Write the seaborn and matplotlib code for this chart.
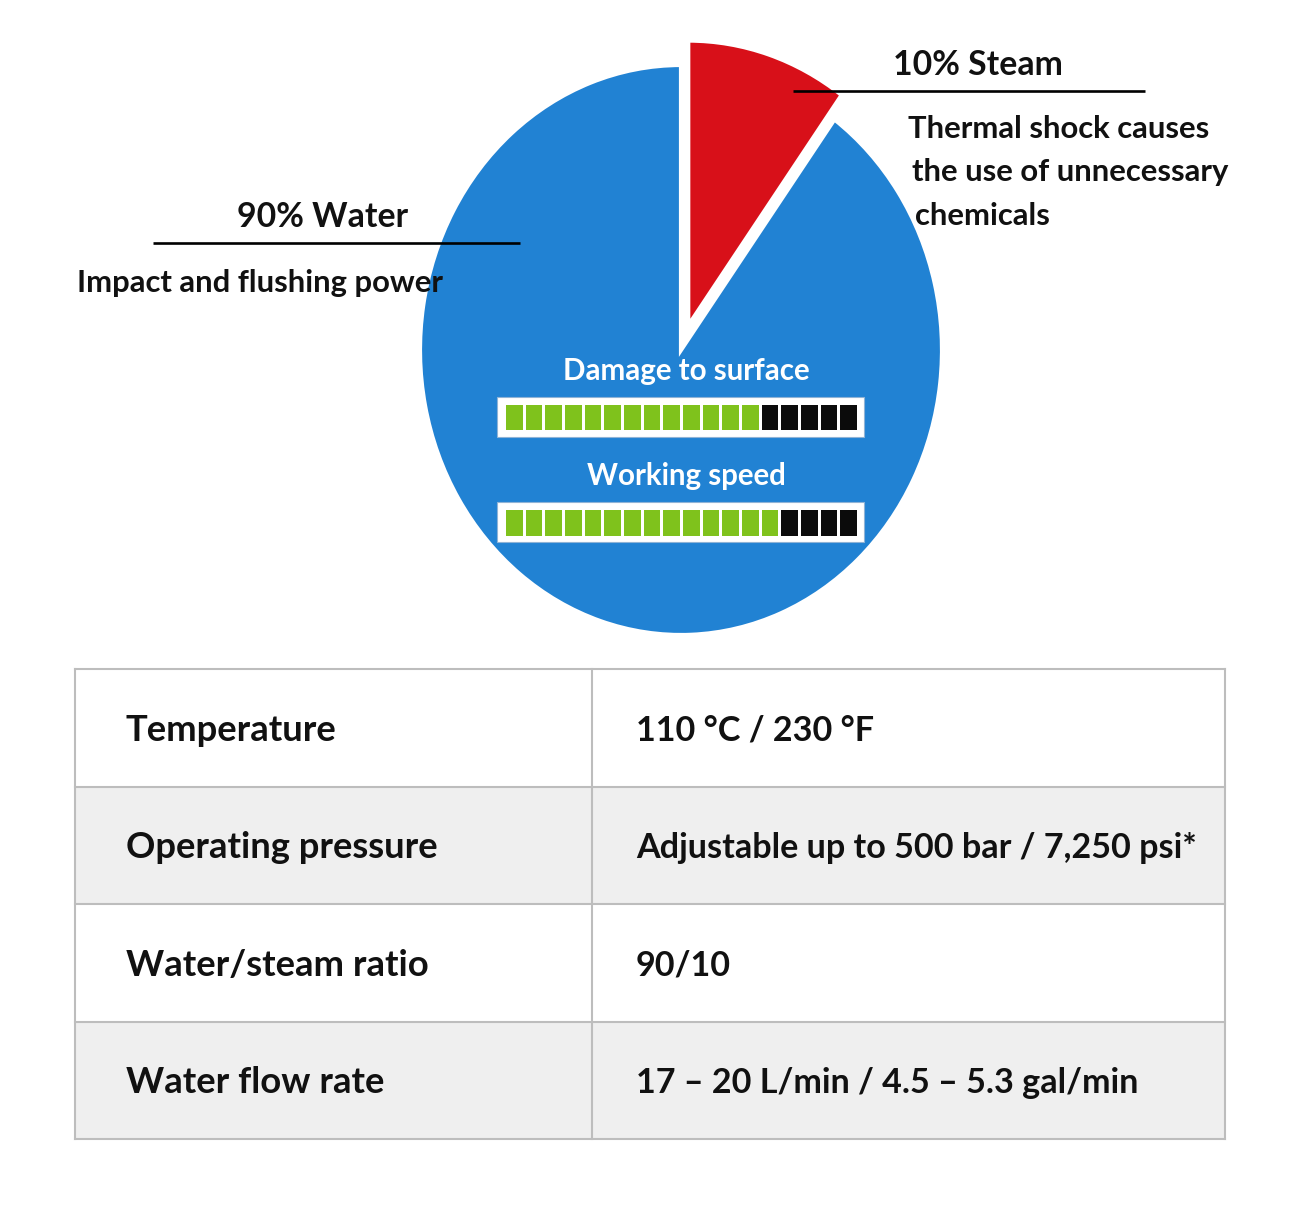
import numpy as np
import matplotlib
matplotlib.use("Agg")
import matplotlib.pyplot as plt
import seaborn as sns
from matplotlib.colors import ListedColormap
from matplotlib.patches import Rectangle

sns.set_theme(style="white")
plt.rcParams['font.family'] = ['Lato', 'DejaVu Sans']

# ---------------- data ----------------
pie_labels = ["Water", "Steam"]
pie_values = [90, 10]
pie_colors = ["#2182d3", "#d81019"]
water_title = "90% Water"
water_note = "Impact and flushing power"
steam_title = "10% Steam"
steam_note = ["Thermal shock causes", "the use of unnecessary", "chemicals"]
meter_labels = ["Damage to surface", "Working speed"]
meter_filled = [13, 14]
meter_total = 18
table_params = ["Temperature", "Operating pressure", "Water/steam ratio", "Water flow rate"]
table_values = ["110 °C / 230 °F", "Adjustable up to 500 bar / 7,250 psi*",
                "90/10", "17 – 20 L/min / 4.5 – 5.3 gal/min"]

W, H = 1303, 1207
fig = plt.figure(figsize=(W / 100, H / 100), dpi=100)
fig.patch.set_facecolor("white")


def frac(x0, y0, x1, y1):
    return [x0 / W, 1 - y1 / H, (x1 - x0) / W, (y1 - y0) / H]


# ---------------- pie ----------------
cx, cy, rx, ry = 681, 350, 261, 285
ax_pie = fig.add_axes(frac(cx - rx, cy - ry, cx + rx, cy + ry))
wedges, _ = ax_pie.pie(pie_values, colors=pie_colors, startangle=90, counterclock=True,
                       explode=[0, 0.09], radius=1,
                       wedgeprops=dict(edgecolor="white", linewidth=3))
for w in wedges:
    w.set_clip_on(False)
ax_pie.set_aspect("auto")
ax_pie.set_xlim(-1, 1)
ax_pie.set_ylim(-1, 1)
ax_pie.axis("off")

# ---------------- overlay (pixel coords) ----------------
ov = fig.add_axes([0, 0, 1, 1])
ov.set_xlim(0, W)
ov.set_ylim(H, 0)
ov.axis("off")
ov.patch.set_alpha(0)

renderer = fig.canvas.get_renderer()


def fitted_size(s, width_px, base=20):
    t = ov.text(0, 0, s, fontsize=base, fontweight="bold")
    w = t.get_window_extent(renderer).width
    t.remove()
    return base * width_px / w


head_fs = fitted_size(steam_title, 170)
note_fs = fitted_size(water_note, 366)
meter_fs = fitted_size(meter_labels[0], 247)
table_fs_left = fitted_size(table_params[1], 312)
table_fs_right = fitted_size(table_values[1], 561)

# annotations
ov.plot([153, 520], [243, 243], color="black", lw=1.9, solid_capstyle="butt")
ov.plot([793, 1145], [91, 91], color="black", lw=1.9, solid_capstyle="butt")
ov.text(323, 227, water_title, fontsize=head_fs, fontweight="bold", ha="center", va="baseline", color="#111111")
ov.text(77, 292, water_note, fontsize=note_fs, fontweight="bold", ha="left", va="baseline", color="#111111")
ov.text(978, 75, steam_title, fontsize=head_fs, fontweight="bold", ha="center", va="baseline", color="#111111")
for line, base, xl in zip(steam_note, [138, 181, 225], [908, 912, 915]):
    ov.text(xl, base, line, fontsize=note_fs, fontweight="bold", ha="left", va="baseline", color="#111111")

# meters
meter_frames = [(497, 397, 864, 437), (497, 502, 864, 542)]
meter_cells = [(504, 403, 858, 431), (504, 508, 858, 537)]
meter_baselines = [380, 485]
for lab, base, (x0, y0, x1, y1) in zip(meter_labels, meter_baselines, meter_frames):
    ov.text(686, base, lab, fontsize=meter_fs, fontweight="bold", ha="center", va="baseline", color="white")
    ov.add_patch(Rectangle((x0, y0), x1 - x0, y1 - y0, facecolor="white", edgecolor="#8fb3d6", lw=0.8))

# table
edges_y = np.linspace(669, 1139, len(table_params) + 1)
tx0, tx1, tmid = 75, 1225, 592
for i in range(len(table_params)):
    if i % 2 == 1:
        ov.add_patch(Rectangle((tx0, edges_y[i]), tx1 - tx0, edges_y[i + 1] - edges_y[i],
                               facecolor="#efefef", edgecolor="none"))
border = "#bdbdbd"
for y in edges_y:
    ov.plot([tx0, tx1], [y, y], color=border, lw=1.5, solid_capstyle="projecting")
for x in [tx0, tmid, tx1]:
    ov.plot([x, x], [edges_y[0], edges_y[-1]], color=border, lw=1.5, solid_capstyle="projecting")
cap_l = 0.72 * table_fs_left * 100 / 72
cap_r = 0.72 * table_fs_right * 100 / 72
for i, (p, v) in enumerate(zip(table_params, table_values)):
    yc = (edges_y[i] + edges_y[i + 1]) / 2
    ov.text(126, yc + cap_l / 2, p, fontsize=table_fs_left, fontweight="bold", ha="left", va="baseline", color="#111111")
    ov.text(636, yc + cap_r / 2, v, fontsize=table_fs_right, fontweight="bold", ha="left", va="baseline", color="#111111")

# meter cells via seaborn heatmap
cmap = ListedColormap(["#0b0b0b", "#7fc21c"])
for filled, (x0, y0, x1, y1) in zip(meter_filled, meter_cells):
    hax = fig.add_axes(frac(x0, y0, x1, y1))
    data = np.array([[1] * filled + [0] * (meter_total - filled)])
    sns.heatmap(data, ax=hax, cmap=cmap, vmin=0, vmax=1, cbar=False,
                linewidths=2, linecolor="white", xticklabels=False, yticklabels=False)
    hax.axis("off")

fig.savefig("out.png", dpi=100, facecolor="white")
